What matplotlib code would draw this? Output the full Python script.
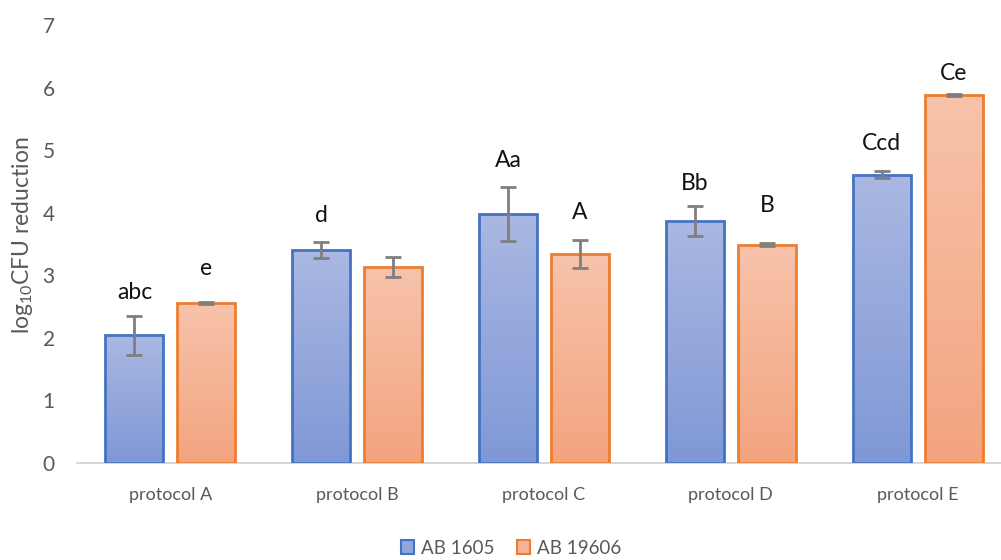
import matplotlib
matplotlib.use("Agg")
import matplotlib.pyplot as plt
import numpy as np
from matplotlib.colors import LinearSegmentedColormap
from matplotlib.patches import Patch

categories = ["protocol A", "protocol B", "protocol C", "protocol D", "protocol E"]
series_names = ["AB 1605", "AB 19606"]
ab1605 = [2.04, 3.40, 3.98, 3.87, 4.61]
ab1605_err = [0.31, 0.13, 0.43, 0.24, 0.06]
ab19606 = [2.56, 3.14, 3.34, 3.49, 5.88]
ab19606_err = [0.02, 0.16, 0.22, 0.02, 0.02]
labels_1605 = ["abc", "d", "Aa", "Bb", "Ccd"]
labels_19606 = ["e", "", "A", "B", "Ce"]
label_y_1605 = [2.73, 3.96, 4.83, 4.46, 5.11]
label_y_19606 = [3.11, None, 4.00, 4.12, 6.23]
yticks = [0, 1, 2, 3, 4, 5, 6, 7]

plt.rcParams['font.family'] = ['Lato', 'DejaVu Sans']
plt.rcParams['mathtext.fontset'] = 'custom'
plt.rcParams['mathtext.rm'] = 'Lato'
plt.rcParams['mathtext.it'] = 'Lato:italic'
plt.rcParams['mathtext.bf'] = 'Lato:bold'

fig = plt.figure(figsize=(10.01, 5.6), dpi=100)
ax = fig.add_axes([77/1001, 97/560, 934/1001, 438/560])

gray = "#595959"
blue_edge = "#4472c4"
orange_edge = "#ed7d31"
blue_cmap = LinearSegmentedColormap.from_list("b", ["#7f98d6", "#aab8e2"])
orange_cmap = LinearSegmentedColormap.from_list("o", ["#f3a47f", "#f7c3ab"])

x = np.arange(len(categories))
w = 0.31
gap = 0.075
off = (w + gap) / 2
grad = np.linspace(0, 1, 256).reshape(-1, 1)

def draw(xs, vals, errs, cmap, edge):
    bars = ax.bar(xs, vals, w, facecolor="none", edgecolor=edge, linewidth=2, zorder=3)
    for b in bars:
        x0 = b.get_x(); h = b.get_height()
        im = ax.imshow(grad, cmap=cmap, origin="lower", aspect="auto",
                       extent=(x0, x0 + b.get_width(), 0, h), zorder=2)
        im.set_clip_path(b)
    ax.errorbar(xs, vals, yerr=errs, fmt="none", ecolor="#7f7f7f",
                elinewidth=2, capsize=5.5, capthick=2, zorder=4)
    return bars

draw(x - off, ab1605, ab1605_err, blue_cmap, blue_edge)
draw(x + off, ab19606, ab19606_err, orange_cmap, orange_edge)

for i in range(len(categories)):
    if labels_1605[i]:
        ax.text(x[i] - off, label_y_1605[i], labels_1605[i], ha="center", va="center",
                fontsize=16.5, color="#111111", zorder=5)
    if labels_19606[i]:
        ax.text(x[i] + off, label_y_19606[i], labels_19606[i], ha="center", va="center",
                fontsize=16.5, color="#111111", zorder=5)

ax.set_xlim(-0.5, len(categories) - 0.5)
ax.set_ylim(0, 7)
ax.set_yticks(yticks)
ax.set_xticks(x)
ax.set_xticklabels(categories)
for s in ["top", "right", "left"]:
    ax.spines[s].set_visible(False)
ax.spines["bottom"].set_color("#d0d0d0")
ax.spines["bottom"].set_linewidth(1.2)
ax.tick_params(axis="x", length=0, labelsize=13, colors=gray, pad=17)
ax.tick_params(axis="y", length=0, labelsize=15, colors=gray, pad=16)
ax.set_ylabel(r"log$_{10}$CFU reduction", fontsize=16.5, color=gray)
ax.yaxis.set_label_coords(-0.045, 0.52)

handles = [Patch(facecolor="#93a7dc", edgecolor=blue_edge, linewidth=1.5),
           Patch(facecolor="#f5b497", edgecolor=orange_edge, linewidth=1.5)]
leg = fig.legend(handles, series_names, loc="center", bbox_to_anchor=(511/1001, 1 - 548/560),
                 ncol=2, frameon=False, fontsize=13.5, handlelength=0.7, handleheight=0.7,
                 handletextpad=0.35, columnspacing=1.2)
for t in leg.get_texts():
    t.set_color(gray)

fig.savefig("out.png", dpi=100)
